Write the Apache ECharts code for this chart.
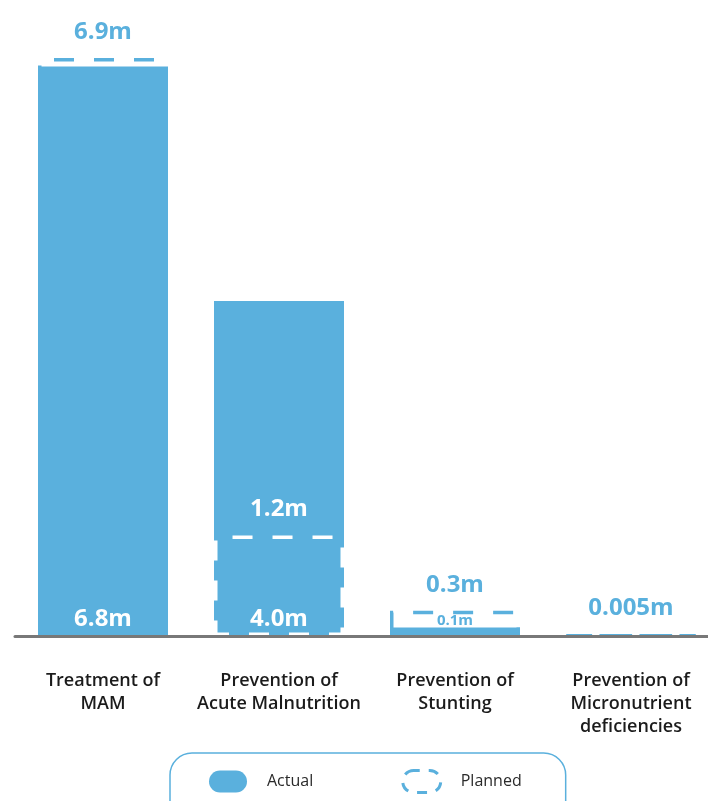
<!DOCTYPE html>
<html>
<head>
<meta charset="utf-8">
<title>Nutrition beneficiaries: actual vs planned</title>
<script src="https://cdn.jsdelivr.net/npm/echarts@6/dist/echarts.min.js"></script>
<style>
  html, body { margin: 0; padding: 0; background: #ffffff; }
  #chart { width: 708px; height: 801px; }
</style>
</head>
<body>
<div id="chart"></div>
<script>
// Beneficiaries reached (actual) against plan, in millions
const categories = [
  'Treatment of\nMAM',
  'Prevention of\nAcute Malnutrition',
  'Prevention of\nStunting',
  'Prevention of\nMicronutrient\ndeficiencies'
];
const actualValues = [6.8, 4.0, 0.1, null];
const plannedValues = [6.9, 1.2, 0.3, 0.005];
const seriesNames = ['Actual', 'Planned'];

const BLUE = '#5ab0dd';
const GRID_TOP = 58;
const GRID_BOTTOM = 165;
const Y_MAX = 6.9;

const fmt = v => (v >= 0.1 ? v.toFixed(1) : String(v)) + 'm';

const chart = echarts.init(document.getElementById('chart'), null, { renderer: 'canvas' });
const plotHeight = chart.getHeight() - GRID_TOP - GRID_BOTTOM;

// Bars too short to hold their value get a smaller label sitting on top
const actualData = actualValues.map(v => {
  if (v == null) return { value: null };
  const px = v / Y_MAX * plotHeight;
  if (px < 30) {
    return {
      value: v,
      label: { position: 'top', distance: -1, color: BLUE, fontSize: 15 }
    };
  }
  return { value: v };
});

// A plan smaller than the achieved bar is outlined in white over it
const plannedData = plannedValues.map((v, i) => {
  const a = actualValues[i];
  if (a != null && v < a) {
    return {
      value: v,
      itemStyle: { borderColor: '#ffffff' },
      label: { color: '#ffffff' }
    };
  }
  return { value: v };
});

const pillIcon = 'path://M11,0 H27 A11,11 0 0 1 27,22 H11 A11,11 0 0 1 11,0 Z';

const option = {
  animation: false,
  textStyle: { fontFamily: 'Open Sans' },
  grid: {
    left: 15,
    width: 704,
    top: GRID_TOP,
    bottom: GRID_BOTTOM,
    containLabel: false,
    outerBoundsMode: 'none'
  },
  legend: {
    left: 170,
    top: 753,
    orient: 'horizontal',
    padding: [16, 44, 30, 39],
    borderColor: BLUE,
    borderWidth: 1.5,
    borderRadius: 22,
    itemWidth: 38,
    itemHeight: 22,
    itemGap: 88,
    selectedMode: false,
    textStyle: { fontFamily: 'Open Sans', fontSize: 16, color: '#2a2a2a', padding: [0, 0, 0, 15] },
    data: [
      { name: seriesNames[0], icon: pillIcon, itemStyle: { color: BLUE, borderWidth: 0 } },
      {
        name: seriesNames[1],
        icon: pillIcon,
        itemStyle: { color: 'rgba(0,0,0,0)', borderColor: BLUE, borderWidth: 3, borderType: [10, 9], borderDashOffset: 4 }
      }
    ]
  },
  xAxis: [
    {
      type: 'category',
      data: categories,
      axisLine: { show: true, lineStyle: { color: '#787878', width: 3 } },
      axisTick: { show: false },
      axisLabel: {
        margin: 33,
        fontFamily: 'Open Sans',
        fontSize: 18,
        fontWeight: 600,
        color: '#1b1b1b',
        lineHeight: 23,
        interval: 0
      },
      z: 5
    },
    {
      type: 'category',
      data: categories,
      show: false
    }
  ],
  yAxis: {
    type: 'value',
    min: 0,
    max: Y_MAX,
    show: false,
    splitLine: { show: false }
  },
  series: [
    {
      name: seriesNames[0],
      type: 'bar',
      xAxisIndex: 0,
      barWidth: 130,
      z: 2,
      data: actualData,
      itemStyle: { color: BLUE },
      emphasis: { disabled: true },
      label: {
        show: true,
        position: 'insideBottom',
        distance: 5,
        formatter: p => fmt(p.value),
        fontFamily: 'Open Sans',
        fontSize: 24,
        fontWeight: 'bold',
        color: '#ffffff'
      }
    },
    {
      name: seriesNames[1],
      type: 'bar',
      xAxisIndex: 1,
      barWidth: 130,
      z: 3,
      data: plannedData,
      itemStyle: {
        color: 'rgba(0,0,0,0)',
        borderColor: BLUE,
        borderWidth: 3.5,
        borderType: [20, 20],
        borderDashOffset: 6.75
      },
      emphasis: { disabled: true },
      label: {
        show: true,
        position: 'top',
        distance: 14,
        formatter: p => fmt(p.value),
        fontFamily: 'Open Sans',
        fontSize: 24,
        fontWeight: 'bold',
        color: BLUE
      }
    }
  ]
};

chart.setOption(option);
</script>
</body>
</html>
